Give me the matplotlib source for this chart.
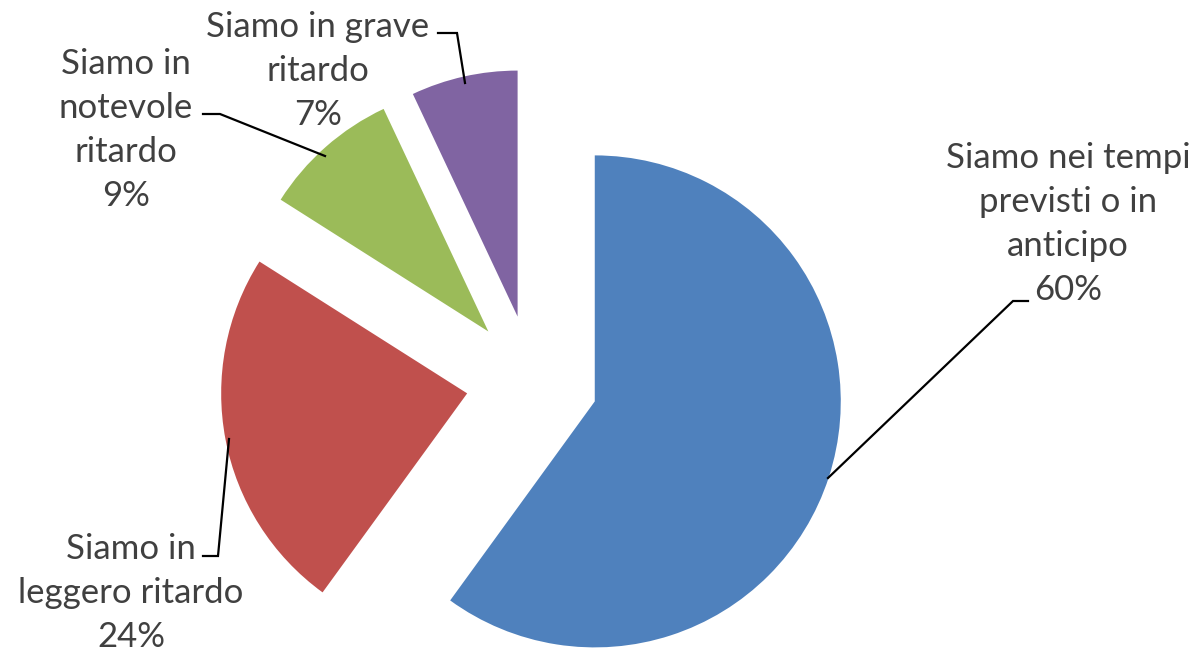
import matplotlib.pyplot as plt

labels = ['Siamo nei tempi\nprevisti o in\nanticipo',
          'Siamo in\nleggero ritardo',
          'Siamo in\nnotevole\nritardo',
          'Siamo in grave\nritardo']
values = [60, 24, 9, 7]
colors = ['#4F81BD', '#C0504D', '#9BBB59', '#8064A2']

W, H = 1197, 651
fig = plt.figure(figsize=(W / 100, H / 100), dpi=100)
ax = fig.add_axes([0, 0, 1, 1])

def py(y):
    # image pixel row -> data y
    return H - y

# explode is in data units here (pixels)
ax.pie(values, colors=colors, startangle=90, counterclock=False,
       center=(532, py(381)), radius=246, explode=[66] * len(values),
       frame=True)
ax.set_xlim(0, W)
ax.set_ylim(0, H)
ax.set_aspect('equal')
ax.axis('off')

# label positions (text center) and leader lines, in image pixels
text_pos = [(1068, 224), (131, 593), (126, 130), (318, 71)]
leaders = [
    [(828, 478), (1013, 301), (1028, 301)],
    [(229, 439), (218, 556), (203, 556)],
    [(325, 156), (220, 114), (203, 114)],
    [(465, 83), (457, 33), (438, 33)],
]

for lab, v, (tx, ty), pts in zip(labels, values, text_pos, leaders):
    ax.text(tx, py(ty), f'{lab}\n{v}%', ha='center', va='center',
            fontsize=25, color='#404040', family='Lato',
            linespacing=1.45)
    ax.plot([p[0] for p in pts], [py(p[1]) for p in pts],
            color='black', lw=1.6, solid_joinstyle='miter')

fig.savefig('out.png', dpi=100, facecolor='white')
